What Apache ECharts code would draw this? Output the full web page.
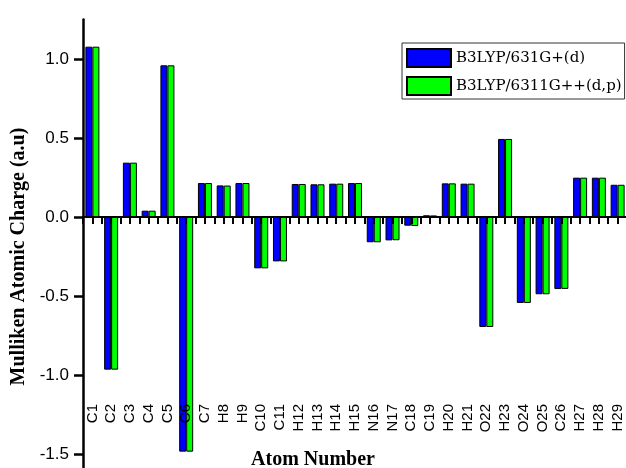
<!DOCTYPE html>
<html>
<head>
<meta charset="utf-8">
<script src="https://cdn.jsdelivr.net/npm/echarts@6/dist/echarts.min.js"></script>
<style>
  html, body { margin: 0; padding: 0; background: #fff; }
  #chart { width: 626px; height: 468px; }
</style>
</head>
<body>
<div id="chart"></div>
<script>
// 原子编号
const atoms = ['C1', 'C2', 'C3', 'C4', 'C5', 'C6', 'C7', 'H8', 'H9', 'C10',
  'C11', 'H12', 'H13', 'H14', 'H15', 'N16', 'N17', 'C18', 'C19', 'H20',
  'H21', 'O22', 'H23', 'O24', 'O25', 'C26', 'H27', 'H28', 'H29']
// B3LYP/631G+(d) 电荷
const charge631 = [1.078, -0.966, 0.344, 0.040, 0.960, -1.485, 0.215, 0.200, 0.215, -0.325,
  -0.281, 0.209, 0.207, 0.211, 0.215, -0.160, -0.148, -0.055, 0.011, 0.213,
  0.211, -0.696, 0.494, -0.544, -0.489, -0.456, 0.249, 0.249, 0.204]
// B3LYP/6311G++(d,p) 电荷
const charge6311 = [1.078, -0.966, 0.344, 0.040, 0.960, -1.485, 0.215, 0.199, 0.215, -0.325,
  -0.281, 0.209, 0.207, 0.211, 0.215, -0.160, -0.147, -0.057, 0.010, 0.213,
  0.211, -0.696, 0.494, -0.544, -0.489, -0.455, 0.249, 0.249, 0.204]
// 纵轴刻度标签
const yLabels = [-1.5, -1.0, -0.5, 0.0, 0.5, 1.0]

// 每个原子拆成两半，刻度落在中心和边界上
const halfSlots = atoms.flatMap(a => [a + '-l', a + '-r'])

const myChart = echarts.init(document.querySelector('#chart'))

const option = {
  animation: false,
  title: {
    text: 'Atom Number',
    left: 'center',
    top: 450,
    padding: 0,
    textStyle: {
      fontFamily: 'Liberation Serif',
      fontWeight: 'bold',
      fontSize: 20,
      color: '#000'
    }
  },
  legend: {
    orient: 'vertical',
    left: 402,
    top: 43,
    padding: [5, 3, 3, 4],
    icon: 'rect',
    itemWidth: 44,
    itemHeight: 18,
    itemGap: 8,
    borderColor: '#333',
    borderWidth: 1,
    textStyle: {
      fontFamily: 'DejaVu Serif',
      fontSize: 15,
      color: '#000'
    },
    data: ['B3LYP/631G+(d)', 'B3LYP/6311G++(d,p)']
  },
  grid: [
    {
      left: 83,
      right: -1,
      top: 19.5,
      bottom: -25.5,
      outerBoundsMode: 'none'
    },
    {
      // 底边对齐 y=0，用来画零线和刻度
      left: 83,
      right: -1,
      top: 19.5,
      bottom: 251,
      outerBoundsMode: 'none'
    }
  ],
  xAxis: [
    {
      type: 'category',
      gridIndex: 0,
      position: 'bottom',
      data: atoms,
      z: 3,
      axisLine: { show: false, onZero: false },
      axisTick: { show: false },
      axisLabel: {
        interval: 0,
        rotate: 90,
        margin: -89.5,
        fontFamily: 'Liberation Sans',
        fontSize: 15,
        color: '#000'
      }
    },
    {
      type: 'category',
      gridIndex: 1,
      position: 'bottom',
      data: halfSlots,
      z: 4,
      axisLine: {
        show: true,
        onZero: false,
        lineStyle: { color: '#000', width: 2 }
      },
      axisTick: {
        show: true,
        interval: 0,
        length: 7,
        lineStyle: { color: '#000', width: 2 }
      },
      axisLabel: { show: false }
    }
  ],
  yAxis: [
    {
      type: 'value',
      gridIndex: 0,
      position: 'left',
      min: -1.75,
      max: 1.25,
      interval: 0.25,
      splitLine: { show: false },
      axisLine: {
        show: true,
        onZero: false,
        lineStyle: { color: '#000', width: 2.5 }
      },
      axisTick: {
        length: 5,
        lineStyle: { color: '#000', width: 2 }
      },
      axisLabel: { show: false }
    },
    {
      type: 'value',
      gridIndex: 0,
      position: 'left',
      min: -1.75,
      max: 1.25,
      splitLine: { show: false },
      name: 'Mulliken Atomic Charge (a.u)',
      nameLocation: 'middle',
      nameGap: 44,
      nameTextStyle: {
        fontFamily: 'Liberation Serif',
        fontWeight: 'bold',
        fontSize: 20,
        color: '#000'
      },
      axisLine: { show: false, onZero: false },
      axisTick: {
        show: true,
        customValues: yLabels,
        length: 9,
        lineStyle: { color: '#000', width: 2.5 }
      },
      axisLabel: {
        customValues: yLabels,
        margin: 14,
        fontFamily: 'Liberation Sans',
        fontSize: 17,
        color: '#000',
        formatter: val => val.toFixed(1)
      }
    },
    {
      type: 'value',
      gridIndex: 1,
      min: 0,
      max: 1,
      axisLine: { show: false, onZero: false },
      axisTick: { show: false },
      axisLabel: { show: false },
      splitLine: { show: false }
    }
  ],
  series: [
    {
      name: 'B3LYP/631G+(d)',
      type: 'bar',
      xAxisIndex: 0,
      yAxisIndex: 0,
      data: charge631,
      barWidth: 7,
      barGap: '0%',
      itemStyle: {
        color: '#0000ff',
        borderColor: '#000',
        borderWidth: 1
      }
    },
    {
      name: 'B3LYP/6311G++(d,p)',
      type: 'bar',
      xAxisIndex: 0,
      yAxisIndex: 0,
      data: charge6311,
      barWidth: 7,
      barGap: '0%',
      itemStyle: {
        color: '#00ff00',
        borderColor: '#000',
        borderWidth: 1
      }
    }
  ]
}

myChart.setOption(option)
</script>
</body>
</html>
